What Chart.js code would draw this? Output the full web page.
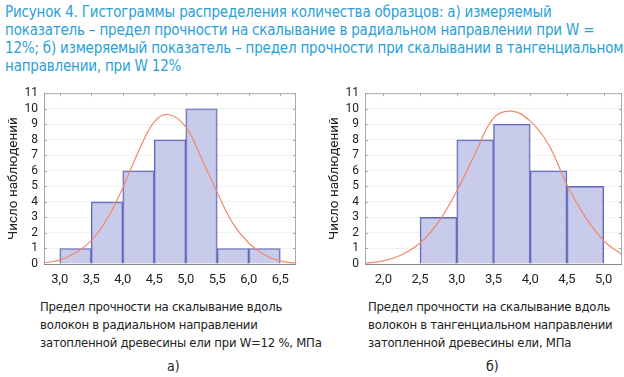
<!DOCTYPE html>
<html>
<head>
<meta charset="utf-8">
<script src="https://cdn.jsdelivr.net/npm/chart.js@4"></script>
<style>
  body { margin: 0; width: 624px; height: 377px; background: #fff; position: relative; overflow: hidden; }
  .t { font-family: 'DejaVu Sans', sans-serif; font-stretch: condensed; white-space: nowrap; position: absolute; }
  .title { left: 5px; top: 3px; color: #2a9fd8; font-size: 15px; line-height: 18px; letter-spacing: -0.2px; }
  .cap { top: 298px; color: #222; font-size: 13px; line-height: 18px; letter-spacing: -0.25px; }
  .lbl { top: 358px; color: #222; font-size: 14px; }
  .box { position: absolute; top: 80px; height: 210px; }
</style>
</head>
<body>
<div class="t title">Рисунок 4. Гистограммы распределения количества образцов: а) измеряемый<br>показатель – предел прочности на скалывание в радиальном направлении при W =<br>12%; б) измеряемый показатель – предел прочности при скалывании в тангенциальном<br>направлении, при W 12%</div>

<div class="box" style="left:0; width:310px;"><canvas id="chartA" width="310" height="210"></canvas></div>
<div class="box" style="left:321px; width:303px;"><canvas id="chartB" width="303" height="210"></canvas></div>

<div class="t cap" style="left:40px;">Предел прочности на скалывание вдоль<br>волокон в радиальном направлении<br>затопленной древесины ели при W=12 %, МПа</div>
<div class="t cap" style="left:368px;">Предел прочности на скалывание вдоль<br>волокон в тангенциальном направлении<br>затопленной древесины ели, МПа</div>
<div class="t lbl" style="left:167px;">а)</div>
<div class="t lbl" style="left:486px;">б)</div>

<script>
// a) radial direction
const binMidsA = [3.25, 3.75, 4.25, 4.75, 5.25, 5.75, 6.25];
const countsA = [1, 4, 6, 8, 10, 1, 1];
const curveXA = [2.75, 3.0, 3.25, 3.5, 3.75, 4.0, 4.25, 4.5, 4.72, 5.0, 5.25, 5.5, 5.75, 6.0, 6.25, 6.5, 6.75];
const curveYA = [0.08, 0.25, 0.72, 1.5, 2.9, 4.9, 7.25, 9.15, 9.63, 8.83, 6.8, 4.6, 2.6, 1.35, 0.6, 0.2, 0.05];
const xTicksA = [3.0, 3.5, 4.0, 4.5, 5.0, 5.5, 6.0, 6.5];

// b) tangential direction
const binMidsB = [2.75, 3.25, 3.75, 4.25, 4.75];
const countsB = [3, 8, 9, 6, 5];
const curveXB = [1.75, 2.0, 2.25, 2.5, 2.75, 3.0, 3.25, 3.5, 3.75, 4.0, 4.25, 4.5, 4.75, 5.0, 5.25];
const curveYB = [0.05, 0.2, 0.6, 1.35, 2.7, 4.7, 7.1, 9.4, 9.84, 9.2, 7.7, 5.1, 3.03, 1.5, 0.6];
const xTicksB = [2.0, 2.5, 3.0, 3.5, 4.0, 4.5, 5.0];

const yTitle = 'Число наблюдений';
const FONT = "Roboto, sans-serif";

// frame around the plot with short inward ticks on every side
const framePlugin = {
  id: 'frame',
  afterDraw(chart) {
    const { ctx, chartArea: a, scales } = chart;
    ctx.save();
    ctx.strokeStyle = '#a8a8a8';
    ctx.lineWidth = 1;
    ctx.strokeRect(a.left + 0.5, a.top + 0.5, a.right - a.left - 1, a.bottom - a.top);
    ctx.beginPath();
    scales.x.ticks.forEach(t => {
      const px = Math.round(scales.x.getPixelForValue(t.value)) + 0.5;
      ctx.moveTo(px, a.top); ctx.lineTo(px, a.top + 3);
    });
    scales.y.ticks.forEach(t => {
      const py = Math.round(scales.y.getPixelForValue(t.value)) + 0.5;
      ctx.moveTo(a.right, py); ctx.lineTo(a.right - 3, py);
      ctx.moveTo(a.left, py); ctx.lineTo(a.left + 3, py);
    });
    ctx.stroke();
    ctx.strokeStyle = '#888';
    ctx.beginPath();
    ctx.moveTo(a.left, a.bottom + 0.5); ctx.lineTo(a.right, a.bottom + 0.5);
    ctx.stroke();
    ctx.restore();
  }
};

function makeHist(id, mids, counts, cx, cy, ticks, xmin, xmax, padRight) {
  const ctx = document.getElementById(id).getContext('2d');
  return new Chart(ctx, {
    type: 'bar',
    data: {
      datasets: [
        {
          type: 'line',
          data: cx.map((x, i) => ({ x: x, y: cy[i] })),
          borderColor: '#f3896b',
          borderWidth: 1.2,
          pointRadius: 0,
          tension: 0.4,
          fill: false,
          order: 0
        },
        {
          data: mids.map((x, i) => ({ x: x, y: counts[i] })),
          backgroundColor: 'rgba(184, 188, 228, 0.78)',
          borderColor: '#5f68b8',
          borderWidth: 1.2,
          barPercentage: 1,
          categoryPercentage: 1,
          order: 1
        }
      ]
    },
    options: {
      responsive: false,
      animation: false,
      layout: { padding: { top: 10, right: padRight, bottom: 0, left: 0 } },
      plugins: { legend: { display: false }, tooltip: { enabled: false } },
      scales: {
        x: {
          type: 'linear',
          min: xmin,
          max: xmax,
          offset: false,
          afterBuildTicks: s => { s.ticks = ticks.map(v => ({ value: v })); },
          afterFit: s => { s.height = 26; },
          grid: { display: false, drawTicks: false },
          border: { display: false },
          ticks: {
            padding: 8,
            autoSkip: false,
            maxRotation: 0,
            color: '#222',
            font: { family: FONT, size: 13 },
            callback: v => v.toFixed(1).replace('.', ',')
          }
        },
        y: {
          min: 0,
          max: 11,
          afterFit: s => { s.width = 44; },
          grid: { color: '#f1f1f1', drawTicks: false },
          border: { display: false },
          ticks: {
            stepSize: 1,
            autoSkip: false,
            padding: 6,
            color: '#222',
            font: { family: FONT, size: 12 }
          },
          title: {
            display: true,
            text: yTitle,
            color: '#222',
            padding: { top: 6, bottom: 0 },
            font: { family: FONT, size: 13.5 }
          }
        }
      }
    },
    plugins: [framePlugin]
  });
}

makeHist('chartA', binMidsA, countsA, curveXA, curveYA, xTicksA, 2.75, 6.75, 14);
makeHist('chartB', binMidsB, countsB, curveXB, curveYB, xTicksB, 1.75, 5.25, 2);
</script>
</body>
</html>
